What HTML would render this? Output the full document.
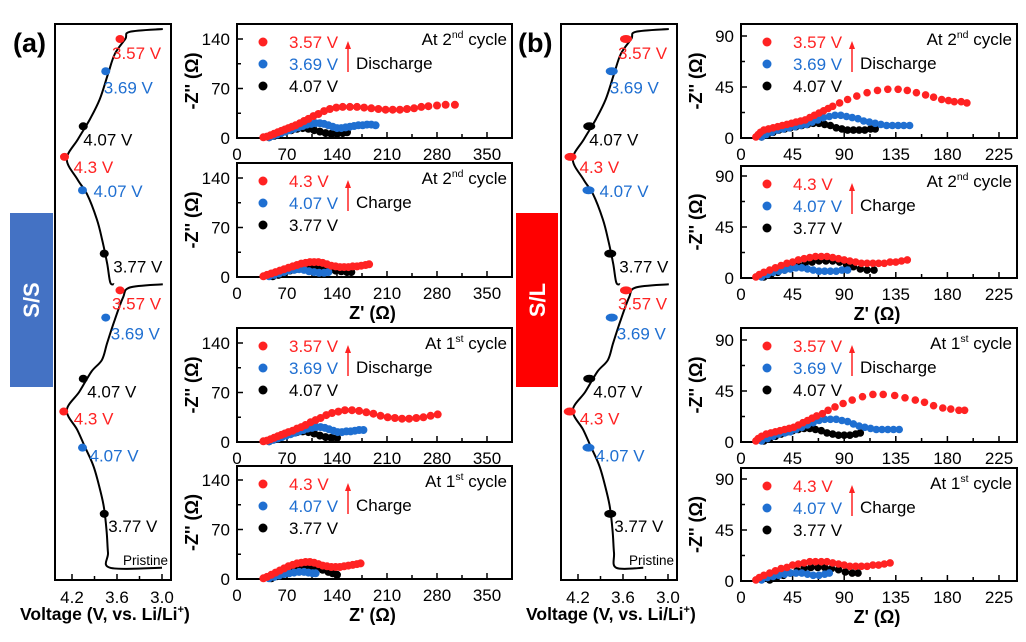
<!DOCTYPE html>
<html><head><meta charset="utf-8"><style>
html,body{margin:0;padding:0;background:#fff}
svg{display:block;font-family:"Liberation Sans",Arial,sans-serif}
</style></head><body>
<svg id="fig" width="1026" height="642" viewBox="0 0 1026 642" xmlns="http://www.w3.org/2000/svg">
<rect width="1026" height="642" fill="#fff"/>
</svg>
<script>
// ---------- data ----------
const a1R=[[37,1],[42,2],[47,4],[52,6],[57,8],[62,10],[67,12],[72,14],[77,16],[82,18],[88,21],[94,24],[100,27],[107,31],[114,34],[122,38],[130,41],[139,43],[148,44],[158,44],[168,44],[178,43],[188,42],[198,41],[208,40],[218,40],[228,40],[238,41],[248,42],[258,44],[268,45],[280,46],[292,47],[305,47]];
const a1B=[[45,1],[50,3],[56,5],[62,7],[68,9],[74,11],[80,13],[86,15],[92,17],[98,19],[104,20],[110,21],[116,21],[122,20],[128,18],[134,16],[140,14],[146,14],[152,15],[158,16],[164,17],[170,18],[176,18],[182,19],[188,19],[194,18]];
const a1K=[[45,1],[52,3],[60,6],[68,9],[76,11],[84,13],[92,14],[100,13],[108,11],[116,9],[124,7],[132,6],[140,6],[148,7],[154,8]];
const a2R=[[37,1],[42,3],[48,5],[54,7],[60,9],[66,11],[72,13],[78,15],[84,17],[90,19],[96,20],[102,21],[108,21],[114,21],[120,20],[126,18],[132,16],[138,15],[144,14],[150,14],[156,14],[162,15],[168,15],[174,16],[180,17],[185,18]];
const a2B=[[45,1],[52,3],[59,5],[66,7],[73,9],[80,10],[87,11],[94,10],[101,8],[108,7],[115,6],[122,6],[128,7]];
const a2K=[[50,1],[58,3],[66,6],[74,9],[82,11],[90,13],[98,14],[106,15],[114,14],[122,12],[130,10],[138,9],[146,8],[154,7],[160,7]];
const a3R=[[37,1],[42,2],[47,4],[52,6],[57,8],[62,10],[67,12],[72,14],[78,16],[84,19],[90,21],[96,24],[103,28],[110,31],[117,34],[125,38],[133,41],[142,43],[151,45],[161,45],[171,44],[181,42],[191,40],[201,37],[211,35],[221,34],[231,33],[241,33],[251,34],[261,35],[271,37],[281,39]];
const a3B=[[45,1],[51,3],[57,5],[63,7],[69,9],[75,11],[81,13],[87,15],[93,17],[99,19],[105,20],[111,21],[117,21],[123,20],[129,18],[135,16],[141,14],[147,14],[153,15],[159,15],[165,16],[171,17],[177,17]];
const a3K=[[45,1],[52,4],[60,7],[68,10],[76,12],[84,14],[92,15],[100,14],[108,12],[116,9],[124,7],[132,6],[140,6]];
const a4R=[[37,1],[42,3],[48,6],[54,9],[60,12],[66,15],[72,18],[78,20],[84,22],[90,23],[96,24],[102,24],[108,23],[114,21],[120,19],[126,18],[132,17],[138,17],[144,17],[150,18],[156,19],[162,20],[168,21],[173,22]];
const a4B=[[45,1],[52,3],[59,5],[66,7],[73,8],[80,9],[87,10],[94,10],[100,9],[106,8],[110,8]];
const a4K=[[48,1],[56,4],[64,7],[72,10],[80,13],[88,15],[96,17],[104,17],[112,16],[120,13],[128,10],[134,8],[140,6]];
const b1R=[[13,1],[15,3],[17,5],[20,7],[24,8],[28,9],[32,10],[36,11],[40,12],[44,13],[48,14],[52,15],[56,16],[60,18],[64,20],[68,22],[72,24],[76,26],[80,28],[86,31],[93,34],[101,37],[110,40],[119,42],[128,43],[137,43],[145,42],[153,40],[161,38],[168,36],[175,34],[181,33],[186,32],[192,32],[197,31]];
const b1B=[[18,1],[22,3],[27,5],[32,7],[37,8],[42,9],[47,10],[52,11],[57,12],[62,14],[67,16],[72,18],[77,19],[82,20],[87,20],[92,19],[97,18],[102,17],[107,15],[112,14],[117,13],[122,12],[127,11],[132,11],[137,11],[142,11],[147,11]];
const b1K=[[18,1],[23,3],[28,5],[33,7],[38,8],[43,9],[48,10],[53,11],[58,12],[63,13],[68,13],[73,12],[78,11],[83,9],[88,8],[93,7],[98,7],[103,7],[108,7],[113,8],[117,8]];
const b2R=[[13,1],[16,3],[20,5],[25,7],[30,9],[35,11],[40,13],[45,14],[50,16],[55,17],[60,18],[65,19],[70,19],[75,19],[80,18],[85,17],[90,16],[95,15],[100,14],[105,13],[110,13],[115,13],[120,13],[125,13],[130,14],[135,14],[140,15],[145,16]];
const b2B=[[18,1],[23,3],[28,5],[33,6],[38,7],[43,8],[48,9],[53,9],[58,8],[63,7],[68,6],[73,6],[78,6],[83,6],[88,7],[93,7]];
const b2K=[[20,1],[26,3],[32,5],[38,7],[44,9],[50,11],[56,13],[62,14],[68,15],[74,15],[80,15],[86,14],[92,12],[98,10],[104,8],[110,7],[116,7]];
const b3R=[[13,1],[15,3],[18,5],[22,7],[26,8],[30,9],[34,10],[38,11],[42,12],[46,13],[50,15],[54,17],[58,19],[62,21],[66,23],[71,25],[76,28],[82,31],[89,34],[97,37],[106,40],[115,42],[124,42],[134,41],[143,39],[152,37],[160,35],[168,32],[176,30],[183,29],[190,28],[195,28]];
const b3B=[[18,1],[23,3],[28,5],[33,7],[38,8],[43,9],[48,11],[53,13],[58,15],[63,17],[68,19],[73,20],[78,20],[83,20],[88,19],[93,18],[98,16],[103,14],[108,13],[113,12],[118,11],[123,11],[128,11],[133,11],[138,11]];
const b3K=[[20,1],[25,3],[30,5],[35,7],[40,9],[45,10],[50,11],[55,12],[60,12],[65,11],[70,10],[75,8],[80,7],[85,6],[90,6],[95,6],[100,7],[104,8]];
const b4R=[[13,1],[16,3],[20,5],[25,7],[30,9],[35,11],[40,12],[45,14],[50,15],[55,16],[60,17],[65,17],[70,17],[75,17],[80,16],[85,15],[90,14],[95,13],[100,13],[105,13],[110,13],[115,14],[120,14],[125,15],[130,16]];
const b4B=[[18,1],[23,3],[28,4],[33,5],[38,6],[43,7],[48,7],[53,7],[58,6],[63,5],[68,5],[73,6],[77,7]];
const b4K=[[25,1],[31,3],[37,5],[43,7],[49,9],[55,11],[61,12],[67,12],[73,12],[79,11],[85,10],[91,8],[97,7],[102,7]];
const aXTicks=[0,70,140,210,280,350];
const aYTicks=[0,70,140];
const bXTicks=[0,45,90,135,180,225];
const bYTicks=[0,45,90];
const vTicks=[4.2,3.6,3.0];
// voltage curves: voltage values and progress (0 = top of box, 1 = bottom)
const curveTopV=[2.99,3.43,3.49,3.63,3.72,3.83,3.96,4.12,4.27,4.13,4.0,3.87,3.8,3.73,3.69,3.64];
const curveTopT=[0.009,0.014,0.027,0.054,0.090,0.135,0.171,0.207,0.243,0.279,0.306,0.351,0.387,0.432,0.465,0.468];
const curveBotV=[2.99,3.43,3.52,3.63,3.73,3.8,3.94,4.1,4.27,4.13,4.03,3.92,3.85,3.78,3.74,3.72,3.69,3.0];
const curveBotT=[0.468,0.474,0.492,0.532,0.573,0.604,0.625,0.661,0.695,0.730,0.760,0.793,0.825,0.865,0.910,0.951,0.978,0.978];
const markV=[3.56,3.75,4.05,4.3,4.06,3.77,3.56,3.75,4.05,4.31,4.06,3.77];
const markT=[0.027,0.085,0.184,0.239,0.299,0.413,0.479,0.528,0.638,0.697,0.762,0.881];
const markC=["#f22","#1f6fd1","#000","#f22","#1f6fd1","#000","#f22","#1f6fd1","#000","#f22","#1f6fd1","#000"];
const markL=["3.57 V","3.69 V","4.07 V","4.3 V","4.07 V","3.77 V","3.57 V","3.69 V","4.07 V","4.3 V","4.07 V","3.77 V"];
const labDX=[-8,-2,0,9,11,9,-8,5,4,10,7,4];
const labDY=[14,16,13,10,1,13,13,16,13,7,8,12];

const NS="http://www.w3.org/2000/svg";
const svg=document.getElementById('fig');
function mk(tag,attrs,parent){const e=document.createElementNS(NS,tag);for(const k in attrs)e.setAttribute(k,attrs[k]);(parent||svg).appendChild(e);return e;}
function txt(s,attrs,parent){const e=mk('text',attrs,parent);e.textContent=s;return e;}
const RED="#f22",BLUE="#1f6fd1",BLACK="#000";

function smooth(pts){
  let d='M'+pts[0][0].toFixed(1)+','+pts[0][1].toFixed(1);
  for(let i=0;i<pts.length-1;i++){
    const p0=pts[Math.max(i-1,0)],p1=pts[i],p2=pts[i+1],p3=pts[Math.min(i+2,pts.length-1)];
    const c1=[p1[0]+(p2[0]-p0[0])/6,p1[1]+(p2[1]-p0[1])/6];
    const c2=[p2[0]-(p3[0]-p1[0])/6,p2[1]-(p3[1]-p1[1])/6];
    d+=`C${c1[0].toFixed(1)},${c1[1].toFixed(1)} ${c2[0].toFixed(1)},${c2[1].toFixed(1)} ${p2[0].toFixed(1)},${p2[1].toFixed(1)}`;
  }
  return d;
}

function voltPanel(dx,flatEnd,name){
  const g=mk('g',{});
  
  
  const x0=55+dx,x1=171+dx,y0=24,y1=580;
  const xs=v=>72+dx+(4.2-v)*75;
  const ys=t=>y0+t*(y1-y0);
  const fr=mk('rect',{x:x0,y:y0,width:x1-x0,height:y1-y0,fill:'none',stroke:'#000','stroke-width':2},g);
  
  [4.2,3.9,3.6,3.3,3.0].forEach(v=>mk('line',{x1:xs(v),x2:xs(v),y1:y1,y2:y1-(vTicks.includes(v)?6:4),stroke:'#000','stroke-width':1.5},g));
  vTicks.forEach(v=>{const t=txt(v.toFixed(1),{x:xs(v),y:603,'font-size':17,'text-anchor':'middle'},g);
    });
  const bv=curveBotV.slice();bv[bv.length-1]=flatEnd;
  [[curveTopV,curveTopT],[bv,curveBotT]].forEach(([V,T])=>{
    const pts=V.map((v,i)=>[xs(v),ys(T[i])]);
    const p=mk('path',{d:smooth(pts),fill:'none',stroke:'#000','stroke-width':2,'stroke-linejoin':'round'},g);
    
  });
  markV.forEach((v,i)=>{
    const c=mk('ellipse',{cx:xs(v),cy:ys(markT[i]),rx:dx?6:4.5,ry:4,fill:markC[i]},g);
    
    const t=txt(markL[i],{x:xs(v)+labDX[i],y:ys(markT[i])+labDY[i]+6,'font-size':17,fill:markC[i]},g);
    
  });
  const pr=txt('Pristine',{x:x1-3,y:565,'font-size':13.5,'text-anchor':'end'},g);
  
  const xt=txt('Voltage (V, vs. Li/Li',{x:20+dx,y:620,'font-size':17.5,'font-weight':'bold'},g);
  const sp=mk('tspan',{dy:-7,'font-size':11},xt);sp.textContent='+';
  const sp2=mk('tspan',{dy:7},xt);sp2.textContent=')';
  
}

function nyq(o){
  const g=mk('g',{});
  
  
  const xs=v=>o.x0+v*o.kx, ys=v=>o.y1-v*o.ky;
  const fr=mk('rect',{x:o.x0,y:o.y0,width:o.x1-o.x0,height:o.y1-o.y0,fill:'none',stroke:'#000','stroke-width':2},g);
  
  const xstep=o.xt[1]-o.xt[0], ystep=o.yt[1]-o.yt[0];
  for(let v=0;xs(v)<o.x1-2;v+=xstep/2){const major=Math.abs(v/xstep-Math.round(v/xstep))<1e-6;
    mk('line',{x1:xs(v),x2:xs(v),y1:o.y1,y2:o.y1-(major?6:4),stroke:'#000','stroke-width':1.5},g);}
  for(let v=0;ys(v)>o.y0+2;v+=ystep/2){const major=Math.abs(v/ystep-Math.round(v/ystep))<1e-6;
    mk('line',{x1:o.x0,x2:o.x0+(major?6:4),y1:ys(v),y2:ys(v),stroke:'#000','stroke-width':1.5},g);}
  o.xt.forEach(v=>{const t=txt(String(v),{x:xs(v),y:o.y1+22,'font-size':17,'text-anchor':'middle'},g);
    });
  o.yt.forEach(v=>{const t=txt(String(v),{x:o.x0-7,y:ys(v)+6,'font-size':17,'text-anchor':'end'},g);
    });
  const yc=(o.y0+o.y1)/2, yx=o.x0-45;
  const yt=txt("-Z'' (Ω)",{x:yx,y:yc,'font-size':18,'font-weight':'bold','text-anchor':'middle',transform:`rotate(-90 ${yx} ${yc})`,dy:6},g);
  
  if(o.xtitle){const t=txt("Z' (Ω)",{x:(o.x0+o.x1)/2-2,y:o.y1+42,'font-size':18,'font-weight':'bold','text-anchor':'middle'},g);
    }
  const r=o.r||3.8;
  [[o.K,BLACK,'series-black'],[o.B,BLUE,'series-blue'],[o.R,RED,'series-red']].forEach(([arr,col,nm])=>{
    arr.forEach(p=>{const c=mk('circle',{cx:xs(p[0]).toFixed(1),cy:ys(p[1]).toFixed(1),r:r,fill:col},g);
      });
  });
  // legend
  const lx=o.x0+26, ly=o.y0+18;
  o.leg.forEach((s,i)=>{const col=[RED,BLUE,BLACK][i];
    const c=mk('circle',{cx:lx,cy:ly+i*22,r:4.5,fill:col},g);
    
    const t=txt(s,{x:lx+26,y:ly+i*22+6,'font-size':17,fill:col},g);
    });
  const ax=lx+85;
  mk('line',{x1:ax,x2:ax,y1:ly+30,y2:ly+5,stroke:RED,'stroke-width':1.5},g);
  const ar=mk('path',{d:`M${ax-3},${ly+7}L${ax},${ly-1}L${ax+3},${ly+7}Z`,fill:RED},g);
  
  const dt=txt(o.dir,{x:ax+8,y:ly+27,'font-size':17},g);
  
  const ct=txt('At '+o.cyc[0],{x:o.x1-5,y:o.y0+21,'font-size':17,'text-anchor':'end'},g);
  const s1=mk('tspan',{dy:-7,'font-size':10.5},ct);s1.textContent=o.cyc[1];
  const s2=mk('tspan',{dy:7},ct);s2.textContent=' cycle';
  
}

// side bars
const sb=mk('rect',{x:10,y:213,width:43,height:174,fill:'#4472c4'});

const st=txt('S/S',{x:31,y:300,'font-size':22,'font-weight':'bold',fill:'#fff','text-anchor':'middle',transform:'rotate(-90 31 300)',dy:8});

const lb=mk('rect',{x:516,y:213,width:42,height:174,fill:'#ff0000'});

const lt=txt('S/L',{x:537,y:300,'font-size':22,'font-weight':'bold',fill:'#fff','text-anchor':'middle',transform:'rotate(-90 537 300)',dy:8});

const pa=txt('(a)',{x:13,y:52,'font-size':27,'font-weight':'bold'});

const pb=txt('(b)',{x:518,y:52,'font-size':27,'font-weight':'bold'});


voltPanel(0,3.0,'voltage-panel-a');
voltPanel(506,3.33,'voltage-panel-b');

const A={x0:237,x1:512,kx:50/70,ky:99/140,xt:aXTicks,yt:aYTicks,r:4};
const Bc={x0:741,x1:1017,kx:258/225,ky:102/90,xt:bXTicks,yt:bYTicks,r:3.8};
const dis=['3.57 V','3.69 V','4.07 V'], chg=['4.3 V','4.07 V','3.77 V'];
nyq(Object.assign({},A,{name:'nyquist-a-2nd-discharge',y0:24,y1:138,R:a1R,B:a1B,K:a1K,leg:dis,dir:'Discharge',cyc:['2','nd']}));
nyq(Object.assign({},A,{name:'nyquist-a-2nd-charge',y0:163,y1:277,R:a2R,B:a2B,K:a2K,leg:chg,dir:'Charge',cyc:['2','nd'],xtitle:true}));
nyq(Object.assign({},A,{name:'nyquist-a-1st-discharge',y0:328,y1:442,R:a3R,B:a3B,K:a3K,leg:dis,dir:'Discharge',cyc:['1','st']}));
nyq(Object.assign({},A,{name:'nyquist-a-1st-charge',y0:466,y1:579,R:a4R,B:a4B,K:a4K,leg:chg,dir:'Charge',cyc:['1','st'],xtitle:true}));
nyq(Object.assign({},Bc,{name:'nyquist-b-2nd-discharge',y0:24,y1:138,R:b1R,B:b1B,K:b1K,leg:dis,dir:'Discharge',cyc:['2','nd']}));
nyq(Object.assign({},Bc,{name:'nyquist-b-2nd-charge',y0:166,y1:278,R:b2R,B:b2B,K:b2K,leg:chg,dir:'Charge',cyc:['2','nd'],xtitle:true}));
nyq(Object.assign({},Bc,{name:'nyquist-b-1st-discharge',y0:328,y1:442,R:b3R,B:b3B,K:b3K,leg:dis,dir:'Discharge',cyc:['1','st']}));
nyq(Object.assign({},Bc,{name:'nyquist-b-1st-charge',y0:468,y1:581,R:b4R,B:b4B,K:b4K,leg:chg,dir:'Charge',cyc:['1','st'],xtitle:true}));
</script>
</body></html>
